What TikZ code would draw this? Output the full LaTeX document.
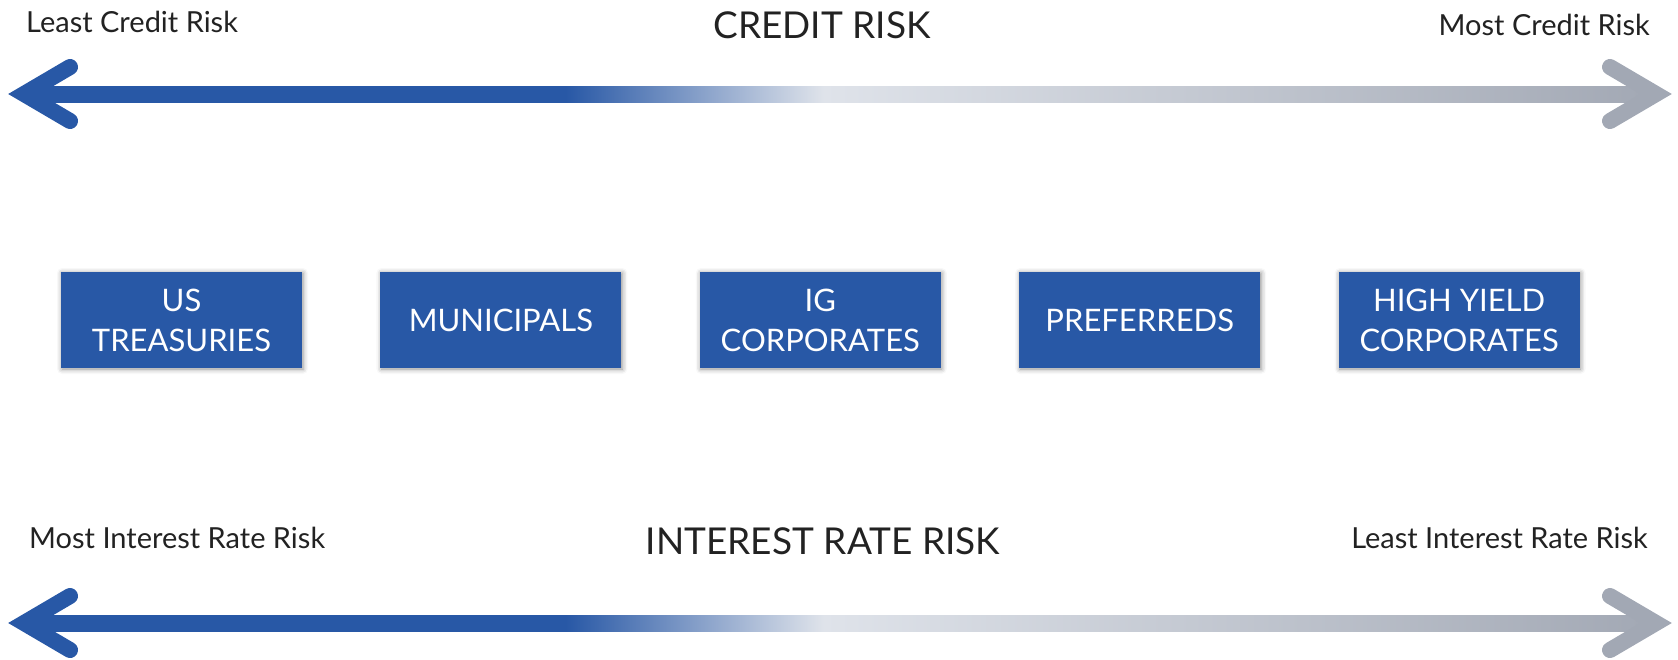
\documentclass[tikz,border=0pt]{standalone}
\usepackage{fontspec}
\setmainfont{Lato}
\usetikzlibrary{positioning,shadows.blur}

\definecolor{riskblue}{RGB}{40,88,166}
\definecolor{riskmid}{RGB}{223,227,234}
\definecolor{riskgrey}{RGB}{162,168,180}
\definecolor{labeltext}{RGB}{34,34,34}

% Verlauf der Pfeilschaefte (Mitte 25bp..75bp)
\pgfdeclarehorizontalshading{riskfade}{100bp}{color(0bp)=(riskblue); color(25bp)=(riskblue);
  color(41.6bp)=(riskblue); color(49.5bp)=(riskmid); color(75bp)=(riskgrey); color(100bp)=(riskgrey)}

\tikzset{
	riskbox/.style={fill=riskblue, text=white, minimum width=241pt, minimum height=96pt,
		inner sep=0pt, align=center, font=\fontsize{31}{40}\selectfont,
		blur shadow={shadow xshift=1pt, shadow yshift=-1pt, shadow blur radius=5pt, shadow opacity=45}},
	endlabel/.style={text=labeltext, inner sep=0pt, font=\fontsize{29}{34}\selectfont},
	scaletitle/.style={text=labeltext, inner sep=0pt, font=\fontsize{37}{44}\selectfont},
	shaft/.style={shading=riskfade},
	head/.style={line width=16pt, line cap=round, line join=miter}
}

\begin{document}
\begin{tikzpicture}[x=1pt, y=-1pt]
	\useasboundingbox (0,0) rectangle (1678,659);

	% Kreditrisiko oben
	\node[endlabel, anchor=base west] (leastcr) at (26,32) {Least Credit Risk};
	\node[scaletitle, anchor=base] (crtitle) at (822,38) {CREDIT RISK};
	\node[endlabel, anchor=base east] (mostcr) at (1650,35) {Most Credit Risk};

	\coordinate (crL) at (24,94);
	\coordinate (crR) at (1656,94);
	\shade[shaft] (24,86) rectangle (1656,102);
	\draw[head, draw=riskblue] (crL) ++(46,-27) -- (crL) -- ++(46,27);
	\draw[head, draw=riskgrey] (crR) ++(-46,-27) -- (crR) -- ++(-46,27);

	% Anleiheklassen
	\node[riskbox] (ust) at (181.5,320) {US\\TREASURIES};
	\node[riskbox, right=78pt of ust] (muni) {MUNICIPALS};
	\node[riskbox, right=78pt of muni] (igcorp) {IG\\CORPORATES};
	\node[riskbox, right=78pt of igcorp] (pref) {PREFERREDS};
	\node[riskbox, right=78pt of pref] (hycorp) {HIGH YIELD\\CORPORATES};

	% Zinsrisiko unten
	\node[endlabel, anchor=base west] (mostir) at (29,548) {Most Interest Rate Risk};
	\node[scaletitle, anchor=base] (irtitle) at (823,554) {INTEREST RATE RISK};
	\node[endlabel, anchor=base east] (leastir) at (1648,548) {Least Interest Rate Risk};

	\coordinate (irL) at (24,623);
	\coordinate (irR) at (1656,623);
	\shade[shaft] (24,615) rectangle (1656,631);
	\draw[head, draw=riskblue] (irL) ++(46,-27) -- (irL) -- ++(46,27);
	\draw[head, draw=riskgrey] (irR) ++(-46,-27) -- (irR) -- ++(-46,27);
\end{tikzpicture}
\end{document}
